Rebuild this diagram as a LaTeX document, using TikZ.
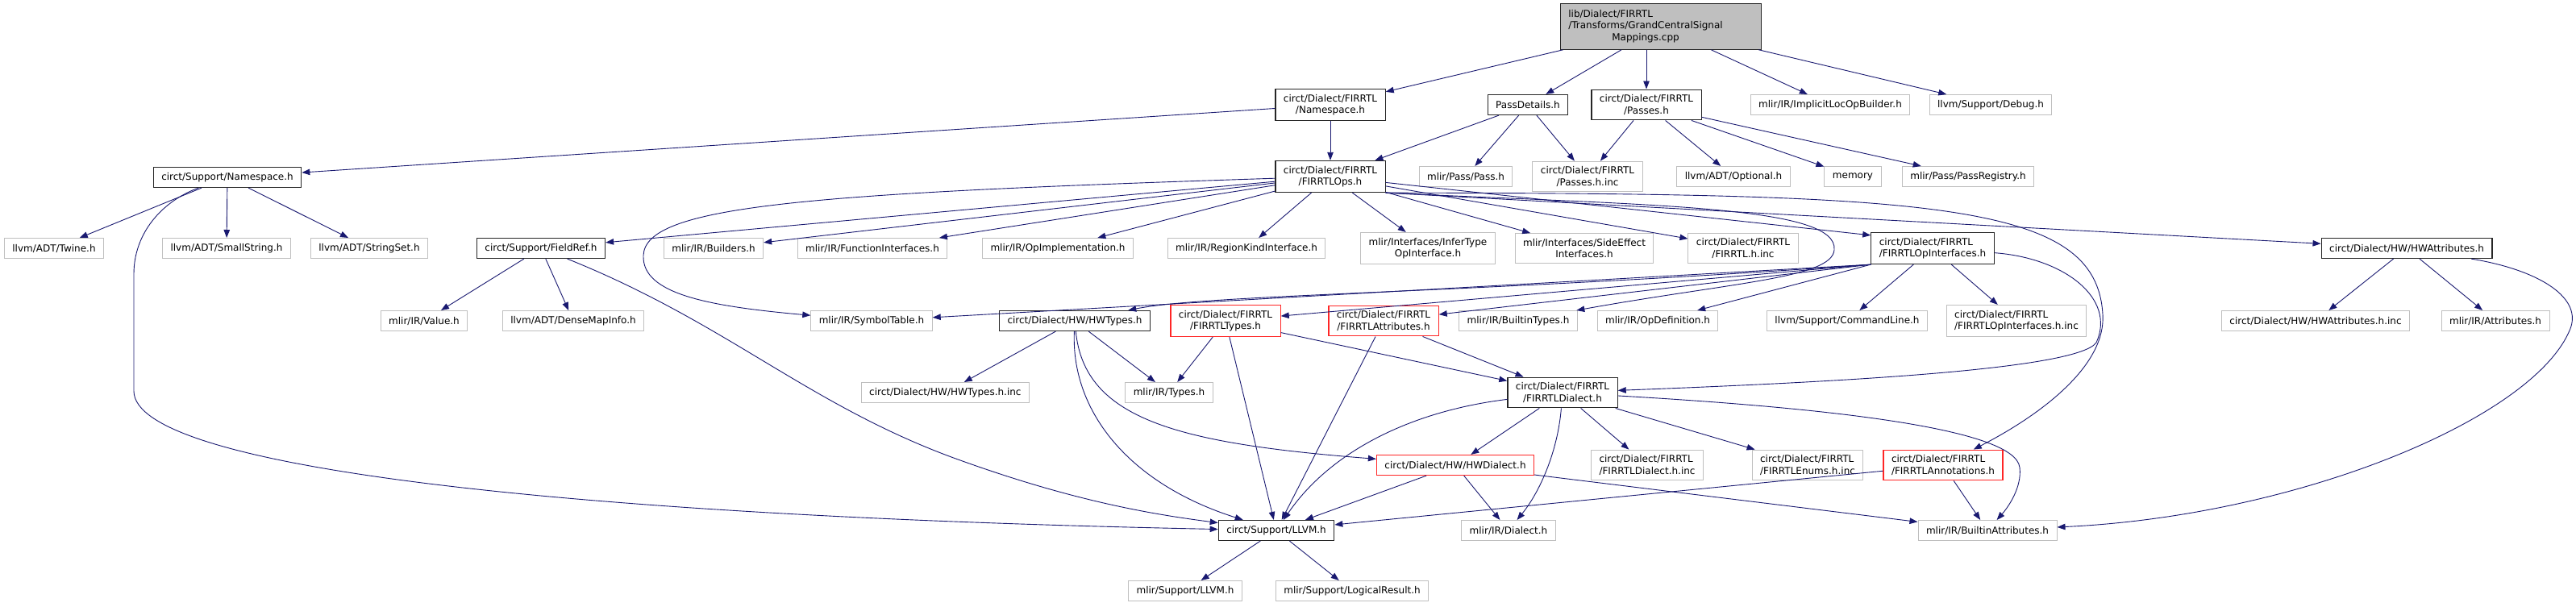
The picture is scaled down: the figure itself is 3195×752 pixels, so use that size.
\documentclass[tikz,border=0pt]{standalone}
\usepackage{fontspec}
\setmainfont{DejaVu Sans}
\usetikzlibrary{arrows.meta}
\definecolor{edgeblue}{HTML}{191970}
\definecolor{boxgray}{HTML}{BFBFBF}
\tikzset{
  anyfile/.style={draw, rectangle, align=center, inner xsep=10pt, inner ysep=6.5pt,
    minimum height=25pt, font=\fontsize{12}{14.5}\selectfont, line width=1pt},
  srcfile/.style={anyfile, fill=boxgray, draw=black!85},
  docfile/.style={anyfile, draw=black!85, line width=1.2pt},
  extfile/.style={anyfile, draw=boxgray},
  cutfile/.style={anyfile, draw=red!85, line width=1.2pt},
  arr/.style={-{Triangle[length=10pt,width=7.5pt]}, color=edgeblue, line width=.9pt}
}
\begin{document}
\begin{tikzpicture}[x=1pt, y=-1pt]
  \useasboundingbox (0,0) rectangle (3195,752);
  \node[srcfile] (gcsm) at (2060,33) {\begin{tabular}{@{}l@{\hspace{38pt}}}lib/Dialect/FIRRTL\\/Transforms/GrandCentralSignal\\\multicolumn{1}{@{}c@{\hspace{38pt}}}{Mappings.cpp}\end{tabular}};

  \node[docfile] (fns) at (1650,130) {circt/Dialect/FIRRTL\\/Namespace.h};
  \node[docfile] (passdet) at (1895,130) {PassDetails.h};
  \node[docfile] (passes) at (2042,130) {circt/Dialect/FIRRTL\\/Passes.h};
  \node[extfile] (implicit) at (2270,130) {mlir/IR/ImplicitLocOpBuilder.h};
  \node[extfile] (debug) at (2469,130) {llvm/Support/Debug.h};

  \node[docfile] (ns) at (282,220) {circt/Support/Namespace.h};
  \node[docfile] (ops) at (1650,219) {circt/Dialect/FIRRTL\\/FIRRTLOps.h};
  \node[extfile] (pass) at (1818,219) {mlir/Pass/Pass.h};
  \node[extfile] (passinc) at (1969,219) {circt/Dialect/FIRRTL\\/Passes.h.inc};
  \node[extfile] (optional) at (2150,219) {llvm/ADT/Optional.h};
  \node[extfile] (memory) at (2298,219) {memory};
  \node[extfile] (registry) at (2441,219) {mlir/Pass/PassRegistry.h};

  \node[extfile] (twine) at (67,308) {llvm/ADT/Twine.h};
  \node[extfile] (smallstr) at (281,308) {llvm/ADT/SmallString.h};
  \node[extfile] (strset) at (458,308) {llvm/ADT/StringSet.h};
  \node[docfile] (fieldref) at (671,308) {circt/Support/FieldRef.h};
  \node[extfile] (builders) at (885,308) {mlir/IR/Builders.h};
  \node[extfile] (funcif) at (1082,308) {mlir/IR/FunctionInterfaces.h};
  \node[extfile] (opimpl) at (1312,308) {mlir/IR/OpImplementation.h};
  \node[extfile] (region) at (1546,308) {mlir/IR/RegionKindInterface.h};
  \node[extfile] (infer) at (1771,308) {mlir/Interfaces/InferType\\OpInterface.h};
  \node[extfile] (sideeff) at (1965,308) {mlir/Interfaces/SideEffect\\Interfaces.h};
  \node[extfile] (firrtlinc) at (2162,308) {circt/Dialect/FIRRTL\\/FIRRTL.h.inc};
  \node[docfile, align=left] (opif) at (2397,308) {circt/Dialect/FIRRTL\\/FIRRTLOpInterfaces.h};
  \node[docfile] (hwattr) at (2985,308) {circt/Dialect/HW/HWAttributes.h};

  \node[extfile] (value) at (526,398) {mlir/IR/Value.h};
  \node[extfile] (densemap) at (711,398) {llvm/ADT/DenseMapInfo.h};
  \node[extfile] (symtab) at (1081,398) {mlir/IR/SymbolTable.h};
  \node[docfile] (hwtypes) at (1333,398) {circt/Dialect/HW/HWTypes.h};
  \node[cutfile] (ftypes) at (1520,398) {circt/Dialect/FIRRTL\\/FIRRTLTypes.h};
  \node[cutfile] (fattrs) at (1716,398) {circt/Dialect/FIRRTL\\/FIRRTLAttributes.h};
  \node[extfile] (btypes) at (1883,398) {mlir/IR/BuiltinTypes.h};
  \node[extfile] (opdef) at (2056,398) {mlir/IR/OpDefinition.h};
  \node[extfile] (cmdline) at (2291,398) {llvm/Support/CommandLine.h};
  \node[extfile, align=left] (opifinc) at (2501,398) {circt/Dialect/FIRRTL\\/FIRRTLOpInterfaces.h.inc};
  \node[extfile] (hwattrinc) at (2872,398) {circt/Dialect/HW/HWAttributes.h.inc};
  \node[extfile] (attrs) at (3095,398) {mlir/IR/Attributes.h};

  \node[extfile, anchor=east] (hwtypesinc) at (1277,487) {circt/Dialect/HW/HWTypes.h.inc};
  \node[extfile] (types) at (1450,487) {mlir/IR/Types.h};
  \node[docfile] (fdialect) at (1938,487) {circt/Dialect/FIRRTL\\/FIRRTLDialect.h};

  \node[cutfile] (hwdialect) at (1805,577) {circt/Dialect/HW/HWDialect.h};
  \node[extfile, align=left] (fdinc) at (2043,577) {circt/Dialect/FIRRTL\\/FIRRTLDialect.h.inc};
  \node[extfile, align=left] (fenums) at (2242,577) {circt/Dialect/FIRRTL\\/FIRRTLEnums.h.inc};
  \node[cutfile, align=left] (fannot) at (2410,577) {circt/Dialect/FIRRTL\\/FIRRTLAnnotations.h};

  \node[docfile] (llvm) at (1583,658) {circt/Support/LLVM.h};
  \node[extfile] (dialect) at (1871,658) {mlir/IR/Dialect.h};
  \node[extfile] (battrs) at (2465,658) {mlir/IR/BuiltinAttributes.h};

  \node[extfile] (mllvm) at (1470,733) {mlir/Support/LLVM.h};
  \node[extfile] (logical) at (1677,733) {mlir/Support/LogicalResult.h};

  \draw[arr] (gcsm) -- (fns);
  \draw[arr] (gcsm) -- (passdet);
  \draw[arr] (passes |- gcsm.south) -- (passes);
  \draw[arr] (gcsm) -- (implicit);
  \draw[arr] (gcsm) -- (debug);
  \draw[arr] (fns) -- (ops);
  \draw[arr] (fns) -- (ns);
  \draw[arr] (passdet) -- (ops);
  \draw[arr] (passdet) -- (pass);
  \draw[arr] (passdet) -- (passinc);
  \draw[arr] (passes) -- (passinc);
  \draw[arr] (passes) -- (optional);
  \draw[arr] (passes) -- (memory);
  \draw[arr] (passes) -- (registry);

  \draw[arr] (ns) -- (twine);
  \draw[arr] (ns) -- (smallstr);
  \draw[arr] (ns) -- (strset);
  \draw[arr] (ns) .. controls (200,250) and (166,290) .. (166,340) -- (166,485)
    .. controls (166,580) and (700,640) .. (llvm);

  \draw[arr] (ops) -- (fieldref);
  \draw[arr] (ops) -- (builders);
  \draw[arr] (ops) -- (funcif);
  \draw[arr] (ops) -- (opimpl);
  \draw[arr] (ops) -- (region);
  \draw[arr] (ops) -- (infer);
  \draw[arr] (ops) -- (sideeff);
  \draw[arr] (ops) -- (firrtlinc);
  \draw[arr] (ops) -- ([yshift=-4pt]opif.north west);
  \draw[arr] (ops.south east) -- (hwattr);
  \draw[arr] (ops) .. controls (1000,240) and (800,255) .. (798,317)
    .. controls (796,365) and (880,380) .. (symtab);
  \draw[arr] (ops.south east) .. controls (2050,255) and (2280,255) .. (2275,310)
    .. controls (2272,345) and (2150,350) .. (btypes);
  \draw[arr] (ops.south east) .. controls (2400,240) and (2600,250) .. (2608,390)
    .. controls (2612,450) and (2540,510) .. (fannot);

  \draw[arr] (fieldref) -- (value);
  \draw[arr] (fieldref) -- (densemap);
  \draw[arr] (fieldref) .. controls (900,400) and (1000,500) .. (1180,567)
    .. controls (1330,622) and (1430,638) .. (llvm);

  \draw[arr] (opif.south west) -- (symtab);
  \draw[arr] (opif.south west) .. controls (1800,365) and (1500,365) .. (hwtypes);
  \draw[arr] (opif.south west) -- (ftypes);
  \draw[arr] (opif.south west) -- (fattrs);
  \draw[arr] (opif.south west) -- (opdef);
  \draw[arr] (opif) -- (cmdline);
  \draw[arr] (opif) -- (opifinc);
  \draw[arr] (opif) .. controls (2560,320) and (2625,370) .. (2600,425)
    .. controls (2575,460) and (2250,475) .. (fdialect);

  \draw[arr] (hwattr) -- (hwattrinc);
  \draw[arr] (hwattr) -- (attrs);
  \draw[arr] (hwattr) .. controls (3150,335) and (3205,370) .. (3187,410)
    .. controls (3140,520) and (2850,640) .. (battrs);

  \draw[arr] (hwtypes) -- (hwtypesinc);
  \draw[arr] (hwtypes) -- (types);
  \draw[arr] (hwtypes) .. controls (1328,510) and (1400,600) .. (llvm);
  \draw[arr] (hwtypes) .. controls (1345,520) and (1460,550) .. (hwdialect);

  \draw[arr] (ftypes) -- (types);
  \draw[arr] (ftypes) -- (llvm);
  \draw[arr] (ftypes) -- (fdialect);
  \draw[arr] (fattrs) -- (fdialect);
  \draw[arr] (fattrs) -- (llvm);

  \draw[arr] (fdialect) -- (hwdialect);
  \draw[arr] (fdialect) -- (fdinc);
  \draw[arr] (fdialect) -- (fenums);
  \draw[arr] (fdialect) .. controls (1932,560) and (1910,610) .. (dialect);
  \draw[arr] (fdialect) .. controls (1750,510) and (1650,560) .. (llvm);
  \draw[arr] (fdialect) .. controls (2250,505) and (2500,530) .. (2505,580)
    .. controls (2508,605) and (2490,630) .. (battrs);

  \draw[arr] (hwdialect) -- (llvm);
  \draw[arr] (hwdialect) -- (dialect);
  \draw[arr] (hwdialect) -- (battrs);
  \draw[arr] (fannot) -- (battrs);
  \draw[arr] (fannot) -- (llvm);

  \draw[arr] (llvm) -- (mllvm);
  \draw[arr] (llvm) -- (logical);
\end{tikzpicture}
\end{document}
